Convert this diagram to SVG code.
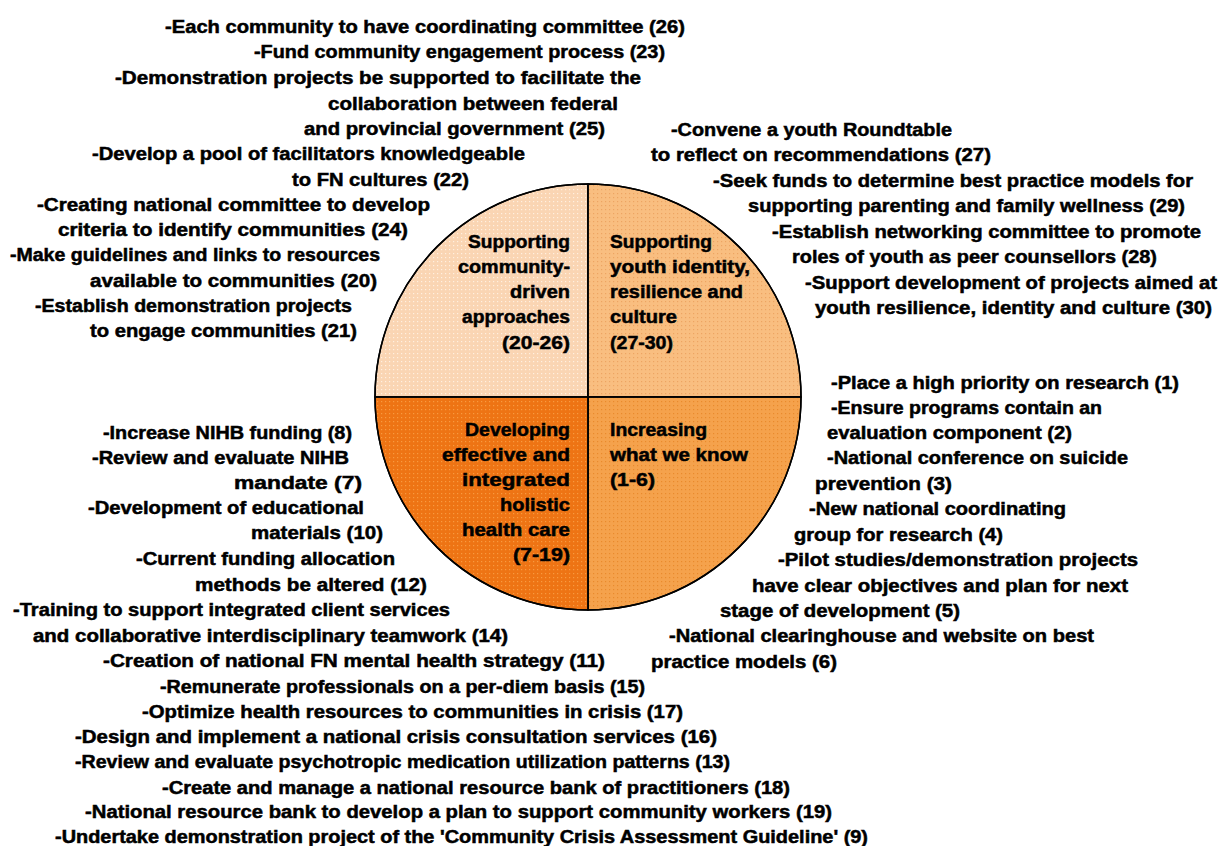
<svg xmlns="http://www.w3.org/2000/svg" width="1220" height="846" viewBox="0 0 1220 846">
<style>
text{font-family:"Liberation Sans",Arial,sans-serif;font-weight:700;font-size:18px;fill:#000;stroke:#000;stroke-width:0.5}
.q{stroke:#000;stroke-width:1.5}
</style>
<defs>
<pattern id="pTL" width="4" height="4" patternUnits="userSpaceOnUse"><rect width="4" height="4" fill="#FAD5B3"/><rect x="1" y="1" width="1.2" height="1.2" fill="#FFF0E0"/></pattern>
<pattern id="pTR" width="4" height="4" patternUnits="userSpaceOnUse"><rect width="4" height="4" fill="#F9BE80"/><rect x="1" y="1" width="1.2" height="1.2" fill="#EDA462"/></pattern>
<pattern id="pBL" width="4" height="4" patternUnits="userSpaceOnUse"><rect width="4" height="4" fill="#EE7414"/><rect x="1" y="1" width="1.2" height="1.2" fill="#F89A40"/></pattern>
<pattern id="pBR" width="4" height="4" patternUnits="userSpaceOnUse"><rect width="4" height="4" fill="#F5A24C"/><rect x="1" y="1" width="1.2" height="1.2" fill="#E98A2C"/></pattern>
</defs>
<rect width="1220" height="846" fill="#fff"/>
<g id="connectors"/>
<g id="q-community">
<path class="q" d="M588,397 L375,397 A213,213 0 0 1 588,184 Z" fill="url(#pTL)"/>
<text x="570" y="248" text-anchor="end" textLength="102" lengthAdjust="spacingAndGlyphs">Supporting</text>
<text x="570" y="273" text-anchor="end" textLength="112" lengthAdjust="spacingAndGlyphs">community-</text>
<text x="570" y="298" text-anchor="end" textLength="60" lengthAdjust="spacingAndGlyphs">driven</text>
<text x="570" y="323" text-anchor="end" textLength="108" lengthAdjust="spacingAndGlyphs">approaches</text>
<text x="570" y="349" text-anchor="end" textLength="68" lengthAdjust="spacingAndGlyphs">(20-26)</text>
</g>
<g id="q-youth">
<path class="q" d="M588,397 L588,184 A213,213 0 0 1 801,397 Z" fill="url(#pTR)"/>
<text x="610" y="248" textLength="102" lengthAdjust="spacingAndGlyphs">Supporting</text>
<text x="610" y="273" textLength="140" lengthAdjust="spacingAndGlyphs">youth identity,</text>
<text x="610" y="298" textLength="133" lengthAdjust="spacingAndGlyphs">resilience and</text>
<text x="610" y="323" textLength="67" lengthAdjust="spacingAndGlyphs">culture</text>
<text x="610" y="349" textLength="63" lengthAdjust="spacingAndGlyphs">(27-30)</text>
</g>
<g id="q-know">
<path class="q" d="M588,397 L801,397 A213,213 0 0 1 588,610 Z" fill="url(#pBR)"/>
<text x="610" y="436" textLength="97" lengthAdjust="spacingAndGlyphs">Increasing</text>
<text x="610" y="461" textLength="138" lengthAdjust="spacingAndGlyphs">what we know</text>
<text x="610" y="486" textLength="45" lengthAdjust="spacingAndGlyphs">(1-6)</text>
</g>
<g id="q-health">
<path class="q" d="M588,397 L588,610 A213,213 0 0 1 375,397 Z" fill="url(#pBL)"/>
<text x="570" y="436" text-anchor="end" textLength="105" lengthAdjust="spacingAndGlyphs">Developing</text>
<text x="570" y="461" text-anchor="end" textLength="128" lengthAdjust="spacingAndGlyphs">effective and</text>
<text x="570" y="486" text-anchor="end" textLength="108" lengthAdjust="spacingAndGlyphs">integrated</text>
<text x="570" y="511" text-anchor="end" textLength="70" lengthAdjust="spacingAndGlyphs">holistic</text>
<text x="570" y="536" text-anchor="end" textLength="108" lengthAdjust="spacingAndGlyphs">health care</text>
<text x="570" y="561" text-anchor="end" textLength="57" lengthAdjust="spacingAndGlyphs">(7-19)</text>
</g>
<line class="q" x1="588" y1="184" x2="588" y2="610"/>
<line class="q" x1="375" y1="397" x2="801" y2="397"/>
<circle cx="588" cy="397" r="213" fill="none" stroke="#000" stroke-width="1.5"/>
<g id="items-community">
<text x="165" y="33" textLength="520" lengthAdjust="spacingAndGlyphs">-Each community to have coordinating committee (26)</text>
<text x="254" y="58" textLength="411" lengthAdjust="spacingAndGlyphs">-Fund community engagement process (23)</text>
<text x="115" y="84" textLength="526" lengthAdjust="spacingAndGlyphs">-Demonstration projects be supported to facilitate the</text>
<text x="328" y="110" textLength="290" lengthAdjust="spacingAndGlyphs">collaboration between federal</text>
<text x="304" y="135" textLength="301" lengthAdjust="spacingAndGlyphs">and provincial government (25)</text>
<text x="92" y="160" textLength="433" lengthAdjust="spacingAndGlyphs">-Develop a pool of facilitators knowledgeable</text>
<text x="292" y="186" textLength="177" lengthAdjust="spacingAndGlyphs">to FN cultures (22)</text>
<text x="37" y="211" textLength="393" lengthAdjust="spacingAndGlyphs">-Creating national committee to develop</text>
<text x="58" y="236" textLength="350" lengthAdjust="spacingAndGlyphs">criteria to identify communities (24)</text>
<text x="10" y="261" textLength="370" lengthAdjust="spacingAndGlyphs">-Make guidelines and links to resources</text>
<text x="90" y="287" textLength="287" lengthAdjust="spacingAndGlyphs">available to communities (20)</text>
<text x="35" y="312" textLength="317" lengthAdjust="spacingAndGlyphs">-Establish demonstration projects</text>
<text x="90" y="337" textLength="267" lengthAdjust="spacingAndGlyphs">to engage communities (21)</text>
</g>
<g id="items-youth">
<text x="671" y="136" textLength="281" lengthAdjust="spacingAndGlyphs">-Convene a youth Roundtable</text>
<text x="651" y="161" textLength="340" lengthAdjust="spacingAndGlyphs">to reflect on recommendations (27)</text>
<text x="713" y="187" textLength="480" lengthAdjust="spacingAndGlyphs">-Seek funds to determine best practice models for</text>
<text x="748" y="212" textLength="437" lengthAdjust="spacingAndGlyphs">supporting parenting and family wellness (29)</text>
<text x="772" y="238" textLength="429" lengthAdjust="spacingAndGlyphs">-Establish networking committee to promote</text>
<text x="792" y="263" textLength="365" lengthAdjust="spacingAndGlyphs">roles of youth as peer counsellors (28)</text>
<text x="805" y="289" textLength="412" lengthAdjust="spacingAndGlyphs">-Support development of projects aimed at</text>
<text x="815" y="314" textLength="397" lengthAdjust="spacingAndGlyphs">youth resilience, identity and culture (30)</text>
</g>
<g id="items-know">
<text x="831" y="389" textLength="348" lengthAdjust="spacingAndGlyphs">-Place a high priority on research (1)</text>
<text x="831" y="414" textLength="271" lengthAdjust="spacingAndGlyphs">-Ensure programs contain an</text>
<text x="827" y="439" textLength="245" lengthAdjust="spacingAndGlyphs">evaluation component (2)</text>
<text x="827" y="464" textLength="301" lengthAdjust="spacingAndGlyphs">-National conference on suicide</text>
<text x="815" y="490" textLength="137" lengthAdjust="spacingAndGlyphs">prevention (3)</text>
<text x="809" y="515" textLength="257" lengthAdjust="spacingAndGlyphs">-New national coordinating</text>
<text x="794" y="541" textLength="209" lengthAdjust="spacingAndGlyphs">group for research (4)</text>
<text x="778" y="566" textLength="360" lengthAdjust="spacingAndGlyphs">-Pilot studies/demonstration projects</text>
<text x="752" y="592" textLength="376" lengthAdjust="spacingAndGlyphs">have clear objectives and plan for next</text>
<text x="720" y="617" textLength="240" lengthAdjust="spacingAndGlyphs">stage of development (5)</text>
<text x="669" y="642" textLength="425" lengthAdjust="spacingAndGlyphs">-National clearinghouse and website on best</text>
<text x="651" y="668" textLength="186" lengthAdjust="spacingAndGlyphs">practice models (6)</text>
</g>
<g id="items-health">
<text x="103" y="439" textLength="249" lengthAdjust="spacingAndGlyphs">-Increase NIHB funding (8)</text>
<text x="92" y="464" textLength="257" lengthAdjust="spacingAndGlyphs">-Review and evaluate NIHB</text>
<text x="234" y="489" textLength="128" lengthAdjust="spacingAndGlyphs">mandate (7)</text>
<text x="88" y="514" textLength="276" lengthAdjust="spacingAndGlyphs">-Development of educational</text>
<text x="251" y="539" textLength="132" lengthAdjust="spacingAndGlyphs">materials (10)</text>
<text x="136" y="565" textLength="259" lengthAdjust="spacingAndGlyphs">-Current funding allocation</text>
<text x="195" y="591" textLength="232" lengthAdjust="spacingAndGlyphs">methods be altered (12)</text>
<text x="13" y="616" textLength="437" lengthAdjust="spacingAndGlyphs">-Training to support integrated client services</text>
<text x="33" y="642" textLength="475" lengthAdjust="spacingAndGlyphs">and collaborative interdisciplinary teamwork (14)</text>
<text x="103" y="667" textLength="502" lengthAdjust="spacingAndGlyphs">-Creation of national FN mental health strategy (11)</text>
<text x="160" y="693" textLength="485" lengthAdjust="spacingAndGlyphs">-Remunerate professionals on a per-diem basis (15)</text>
<text x="142" y="718" textLength="541" lengthAdjust="spacingAndGlyphs">-Optimize health resources to communities in crisis (17)</text>
<text x="75" y="743" textLength="642" lengthAdjust="spacingAndGlyphs">-Design and implement a national crisis consultation services (16)</text>
<text x="75" y="768" textLength="655" lengthAdjust="spacingAndGlyphs">-Review and evaluate psychotropic medication utilization patterns (13)</text>
<text x="162" y="794" textLength="628" lengthAdjust="spacingAndGlyphs">-Create and manage a national resource bank of practitioners (18)</text>
<text x="85" y="818" textLength="747" lengthAdjust="spacingAndGlyphs">-National resource bank to develop a plan to support community workers (19)</text>
<text x="55" y="843" textLength="813" lengthAdjust="spacingAndGlyphs">-Undertake demonstration project of the 'Community Crisis Assessment Guideline' (9)</text>
</g>
</svg>
